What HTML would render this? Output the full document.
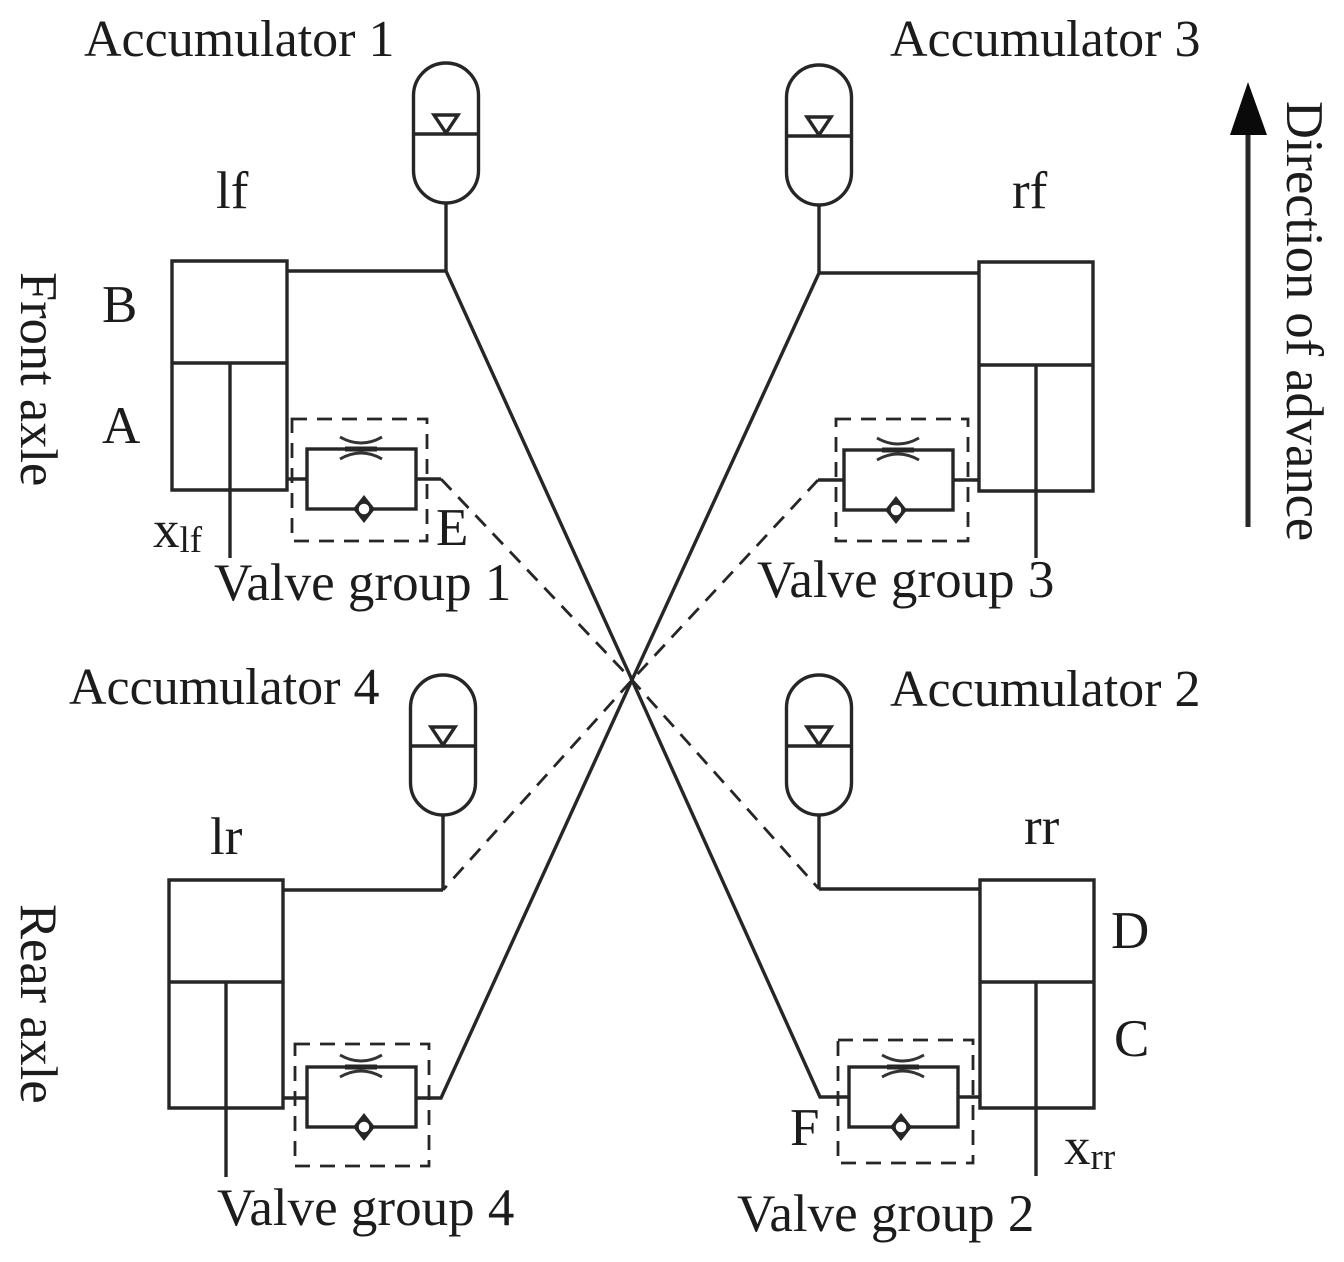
<!DOCTYPE html>
<html><head><meta charset="utf-8"><style>
html,body{margin:0;padding:0;background:#fff}
svg{display:block}
text{font-family:"Liberation Serif",serif;fill:#1c1c1c;font-size:53px}
.a{font-size:52px}
.r{font-size:52.5px}
.l{fill:none;stroke:#262626;stroke-width:3.4}
.d{fill:none;stroke:#262626;stroke-width:2.8;stroke-dasharray:15 10}
</style></head><body>
<svg width="1344" height="1262" viewBox="0 0 1344 1262" xmlns="http://www.w3.org/2000/svg">
<defs>
<g id="acc"><rect x="-32.5" y="-70" width="65" height="140" rx="32.5" class="l"/><path d="M-32.500 1H32.500M-12-18H12L0 0Z" class="l"/></g>
<g id="valve">
<rect x="0" y="0" width="109" height="60" class="l"/>
<path d="M33-12Q54 0 75-12M33 10Q54-2 75 10" fill="none" stroke="#333" stroke-width="3"/>
<path d="M38 0H70" stroke="#262626" stroke-width="5" fill="none"/>
</g>
<g id="chk"><path d="M0-14L11 0L0 14L-11 0Z" fill="#262626"/><circle cx="0" cy="0" r="6.500" fill="#fff" stroke="#262626" stroke-width="2.500"/></g>
</defs>

<!-- Accumulators -->
<use href="#acc" x="446" y="133"/>
<use href="#acc" x="819" y="135"/>
<use href="#acc" x="443" y="745"/>
<use href="#acc" x="819" y="745"/>

<!-- Cylinders -->
<path class="l" d="M172 261H287V490H172ZM172 363H287M230 363V558"/>
<path class="l" d="M979 262H1093V491H979ZM979 365H1093M1036 365V558"/>
<path class="l" d="M169 880H283V1108H169ZM169 982H283M226 982V1177"/>
<path class="l" d="M980 880H1094V1108H980ZM980 982H1094M1036 982V1176"/>

<!-- Solid lines -->
<path class="l" d="M287 271H446M446 203V271L632 680L820 1097H848"/>
<path class="l" d="M979 273H819M819 205V273L632 680L441 1098H417"/>
<path class="l" d="M283 890H443M443 815V890"/>
<path class="l" d="M980 889H819M819 815V889"/>

<!-- Valves -->
<use href="#valve" x="307" y="449"/>
<use href="#valve" x="844" y="450"/>
<use href="#valve" x="307" y="1067"/>
<use href="#valve" x="849" y="1067"/>
<use href="#chk" x="364" y="509"/>
<use href="#chk" x="896" y="510"/>
<use href="#chk" x="364" y="1127"/>
<use href="#chk" x="901" y="1127"/>

<path class="l" d="M287 479H307M416 479H441M953 480H979M844 480H818M283 1098H307M958 1097H980"/>

<!-- Dashed lines -->
<path class="d" d="M441 479L632 680L819 889"/>
<path class="d" d="M818 480L632 680L443 890"/>
<rect x="292" y="419" width="135" height="122" class="d"/>
<rect x="836" y="419" width="132" height="122" class="d"/>
<rect x="295" y="1044" width="134" height="122" class="d"/>
<rect x="838" y="1040" width="135" height="123" class="d"/>

<!-- Arrow -->
<path d="M1248 527V130" stroke="#262626" stroke-width="5" fill="none"/>
<path d="M1230 135L1248 82L1267 135Z" fill="#0a0a0a"/>

<!-- Labels -->
<text class="a" x="84" y="56">Accumulator 1</text>
<text class="a" x="890" y="56">Accumulator 3</text>
<text class="a" x="69" y="704">Accumulator 4</text>
<text class="a" x="890" y="706">Accumulator 2</text>
<text x="216" y="208">lf</text>
<text x="1012" y="208">rf</text>
<text x="210" y="854">lr</text>
<text x="1024" y="844">rr</text>
<text x="102" y="322">B</text>
<text x="102" y="443">A</text>
<text x="436" y="545">E</text>
<text x="1111" y="948">D</text>
<text x="1114" y="1056">C</text>
<text x="790" y="1145">F</text>
<text x="153" y="547">x<tspan font-size="37" dy="5">lf</tspan></text>
<text x="1064" y="1164">x<tspan font-size="37" dy="5">rr</tspan></text>
<text x="214" y="600">Valve group 1</text>
<text x="757" y="597">Valve group 3</text>
<text x="217" y="1225">Valve group 4</text>
<text x="737" y="1231">Valve group 2</text>
<text class="r" transform="translate(21,272) rotate(90)">Front axle</text>
<text class="r" transform="translate(21,904) rotate(90)">Rear axle</text>
<text class="r" transform="translate(1287,101) rotate(90)">Direction of advance</text>
</svg>
</body></html>
